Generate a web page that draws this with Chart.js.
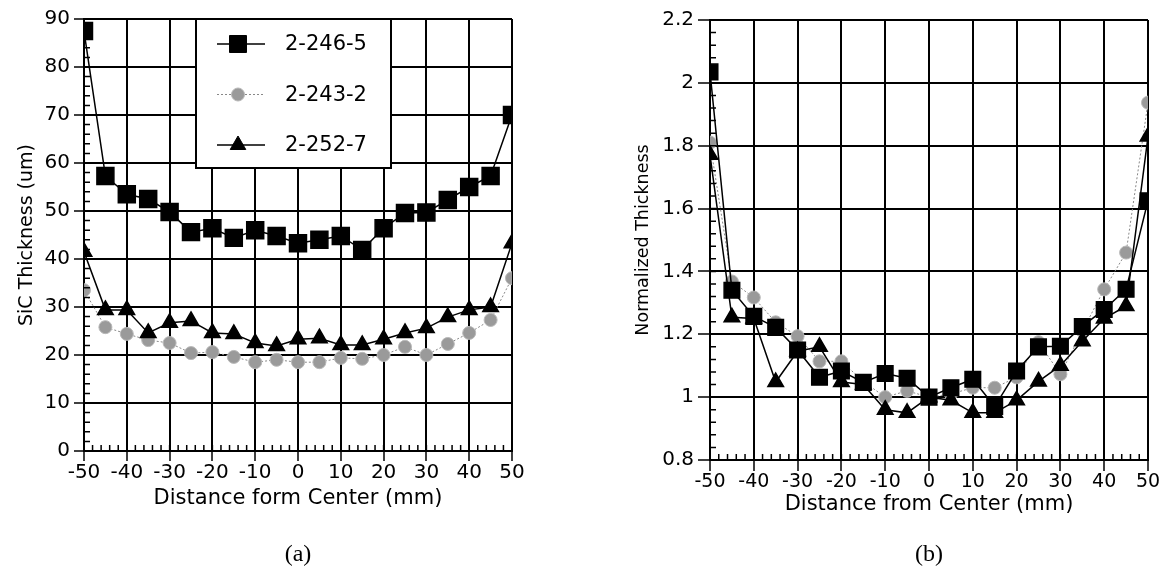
<!DOCTYPE html>
<html>
<head>
<meta charset="utf-8">
<script src="https://cdn.jsdelivr.net/npm/chart.js@4"></script>
<style>
  body { margin: 0; background: #fff; width: 1165px; height: 587px; position: relative; overflow: hidden; }
  canvas { position: absolute; top: 0; }
  #chartA { left: 0; }
  #chartB { left: 580px; }
  .caption { position: absolute; top: 540px; width: 60px; text-align: center;
    font-family: 'Liberation Serif', 'Times New Roman', serif; font-size: 24px; }
</style>
</head>
<body>
<canvas id="chartA" width="580" height="587"></canvas>
<canvas id="chartB" width="585" height="587"></canvas>
<div class="caption" style="left:268px">(a)</div>
<div class="caption" style="left:899px">(b)</div>
<script>
// distance from center (mm), same for every sample
const positions = [-50, -45, -40, -35, -30, -25, -20, -15, -10, -5, 0, 5, 10, 15, 20, 25, 30, 35, 40, 45, 50];

// (a) SiC thickness (um)
const thick2465 = [87.5, 57.3, 53.5, 52.5, 49.8, 45.6, 46.4, 44.4, 46.0, 44.8, 43.3, 44.0, 44.8, 41.9, 46.4, 49.6, 49.7, 52.3, 55.0, 57.3, 70.0];
const thick2432 = [33.5, 25.8, 24.4, 23.1, 22.5, 20.4, 20.6, 19.6, 18.5, 19.0, 18.5, 18.5, 19.4, 19.2, 20.0, 21.7, 20.0, 22.3, 24.6, 27.3, 36.0];
const thick2527 = [41.5, 29.4, 29.4, 24.6, 26.7, 27.1, 24.6, 24.4, 22.5, 21.9, 23.3, 23.5, 22.1, 22.1, 23.3, 24.6, 25.6, 27.9, 29.4, 30.0, 43.3];

// (b) normalized thickness
const norm2465 = [2.035, 1.34, 1.257, 1.222, 1.15, 1.063, 1.083, 1.047, 1.075, 1.06, 1.0, 1.03, 1.057, 0.97, 1.083, 1.16, 1.162, 1.225, 1.279, 1.343, 1.625];
const norm2432 = [1.81, 1.368, 1.317, 1.238, 1.194, 1.114, 1.114, 1.05, 1.0, 1.02, 1.0, 1.01, 1.03, 1.03, 1.063, 1.175, 1.073, 1.21, 1.343, 1.46, 1.937];
const norm2527 = [1.771, 1.254, 1.25, 1.048, 1.146, 1.16, 1.048, 1.04, 0.96, 0.95, 1.0, 0.99, 0.95, 0.95, 0.99, 1.05, 1.10, 1.178, 1.25, 1.29, 1.829];

const sampleNames = ['2-246-5', '2-243-2', '2-252-7'];

function pts(values) {
  return positions.map((x, i) => ({ x: x, y: values[i] }));
}

const FONT = "'DejaVu Sans', Verdana, sans-serif";

// small inward ticks between the major ones
const minorTicks = {
  id: 'minorTicks',
  afterDraw(chart, args, opts) {
    const { ctx, scales: { x, y } } = chart;
    ctx.save();
    ctx.strokeStyle = '#000';
    ctx.lineWidth = 1.5;
    ctx.beginPath();
    let n = Math.round((x.max - x.min) / opts.xStep);
    for (let i = 1; i < n; i++) {
      const px = x.getPixelForValue(x.min + i * opts.xStep);
      ctx.moveTo(px, y.bottom);
      ctx.lineTo(px, y.bottom - 6);
    }
    n = Math.round((y.max - y.min) / opts.yStep);
    for (let i = 1; i < n; i++) {
      const py = y.getPixelForValue(y.min + i * opts.yStep);
      ctx.moveTo(x.left, py);
      ctx.lineTo(x.left + 6, py);
    }
    ctx.stroke();
    ctx.restore();
  }
};

// boxed legend inside the plot area of chart (a)
const boxLegend = {
  id: 'boxLegend',
  beforeDatasetsDraw(chart, args, opts) {
    if (!opts.show) return;
    const ctx = chart.ctx;
    const area = chart.chartArea;
    const left = area.left + opts.offsetX;
    const top = area.top;
    ctx.save();
    ctx.fillStyle = '#fff';
    ctx.fillRect(left, top, opts.width, opts.height);
    ctx.strokeStyle = '#000';
    ctx.lineWidth = 2;
    ctx.strokeRect(left, top, opts.width, opts.height);
    chart.data.datasets.forEach((ds, i) => {
      const cy = top + 25 + i * 50.5;
      ctx.save();
      ctx.strokeStyle = ds.borderColor;
      ctx.lineWidth = ds.borderWidth;
      ctx.setLineDash(ds.borderDash || []);
      ctx.beginPath();
      ctx.moveTo(left + 21, cy);
      ctx.lineTo(left + 69, cy);
      ctx.stroke();
      ctx.restore();
      ctx.fillStyle = ds.pointBackgroundColor;
      ctx.strokeStyle = ds.pointBorderColor;
      ctx.lineWidth = 1;
      Chart.helpers.drawPoint(ctx, { pointStyle: ds.pointStyle, radius: ds.pointRadius, rotation: 0, borderWidth: 1 }, left + 42, cy);
      ctx.fillStyle = '#000';
      ctx.font = '21px ' + FONT;
      ctx.textBaseline = 'middle';
      ctx.fillText(ds.label, left + 89, cy + 1);
    });
    ctx.restore();
  }
};

function makeDatasets(a, b, c, big) {
  return [
    {
      label: sampleNames[0], data: pts(a), order: 1,
      borderColor: '#000', borderWidth: 1.5,
      pointStyle: 'rect', pointRadius: big ? 12 : 11,
      pointBackgroundColor: '#000', pointBorderColor: '#000'
    },
    {
      label: sampleNames[1], data: pts(b), order: 3,
      borderColor: '#888', borderWidth: 1, borderDash: [2, 2],
      pointStyle: 'circle', pointRadius: 6.5,
      pointBackgroundColor: '#9a9a9a', pointBorderColor: '#b8b8b8'
    },
    {
      label: sampleNames[2], data: pts(c), order: 2,
      borderColor: '#000', borderWidth: 1.5,
      pointStyle: 'triangle', pointRadius: 9,
      pointBackgroundColor: '#000', pointBorderColor: '#000'
    }
  ];
}

function axisX(title, height, tickLen, tickSize) {
  return {
    type: 'linear', min: -50, max: 50,
    ticks: { stepSize: 10, color: '#000', maxRotation: 0, padding: 0, font: { family: FONT, size: tickSize } },
    grid: { color: '#000', lineWidth: 2, tickLength: tickLen, tickColor: '#000', tickWidth: 1.5 },
    border: { color: '#000', width: 2 },
    title: { display: true, text: title, color: '#000', font: { family: FONT, size: 21 }, padding: { top: 0, bottom: 0 } },
    afterFit: s => { s.height = height; }
  };
}

function axisY(min, max, step, title, width, titlePad, titleSize, tickLen) {
  return {
    min: min, max: max,
    ticks: {
      stepSize: step, color: '#000', padding: 4, font: { family: FONT, size: 20 },
      callback: v => String(+v.toFixed(2))
    },
    grid: { color: '#000', lineWidth: 2, tickLength: tickLen, tickColor: '#000', tickWidth: 1.5 },
    border: { color: '#000', width: 2 },
    title: { display: true, text: title, color: '#000', font: { family: FONT, size: titleSize }, padding: { top: titlePad, bottom: 0 } },
    afterFit: s => { s.width = width; }
  };
}

new Chart(document.getElementById('chartA'), {
  type: 'line',
  data: { datasets: makeDatasets(thick2465, thick2432, thick2527, true) },
  options: {
    responsive: false,
    animation: false,
    devicePixelRatio: 1,
    layout: { padding: { left: 0, right: 68, top: 19, bottom: 76 } },
    elements: { line: { tension: 0 } },
    plugins: {
      legend: { display: false },
      tooltip: { enabled: false },
      boxLegend: { show: true, offsetX: 112, width: 195, height: 149 },
      minorTicks: { xStep: 2, yStep: 2 }
    },
    scales: {
      x: axisX('Distance form Center (mm)', 60, 10, 20),
      y: axisY(0, 90, 10, 'SiC Thickness (um)', 84, 16, 19, 10)
    }
  },
  plugins: [boxLegend, minorTicks]
});

new Chart(document.getElementById('chartB'), {
  type: 'line',
  data: { datasets: makeDatasets(norm2465, norm2432, norm2527, false) },
  options: {
    responsive: false,
    animation: false,
    devicePixelRatio: 1,
    layout: { padding: { left: 0, right: 17, top: 20, bottom: 70 } },
    elements: { line: { tension: 0 } },
    plugins: {
      legend: { display: false },
      tooltip: { enabled: false },
      boxLegend: { show: false },
      minorTicks: { xStep: 2, yStep: 0.04 }
    },
    scales: {
      x: axisX('Distance from Center (mm)', 57, 11, 19),
      y: axisY(0.8, 2.2, 0.2, 'Normalized Thickness', 130, 53, 17.5, 12)
    }
  },
  plugins: [boxLegend, minorTicks]
});
</script>
</body>
</html>
